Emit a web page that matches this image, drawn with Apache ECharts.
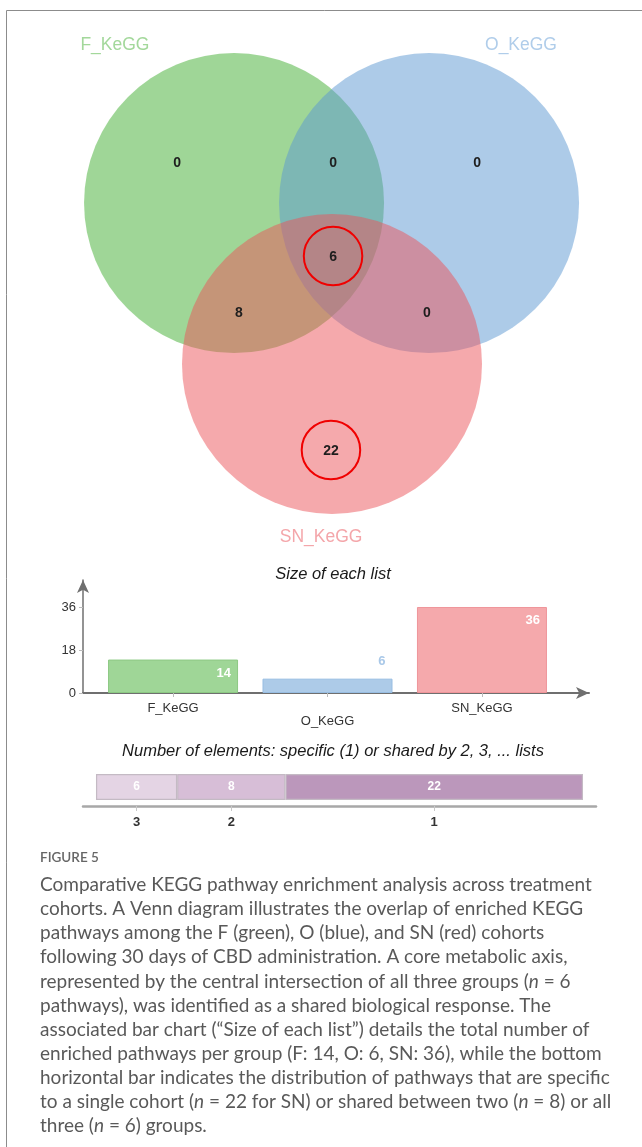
<!DOCTYPE html>
<html>
<head>
<meta charset="utf-8">
<script src="https://cdn.jsdelivr.net/npm/echarts@6/dist/echarts.min.js"></script>
<style>
  html, body { margin: 0; padding: 0; background: #fff; }
  #chart { width: 642px; height: 1147px; }
</style>
</head>
<body>
<div id="chart"></div>
<script>
// --- data ---
const setNames = ['F_KeGG', 'O_KeGG', 'SN_KeGG'];
const listSizes = [14, 6, 36];
// Venn regions: F only, F∩O, O only, F∩O∩SN, F∩SN, O∩SN, SN only
const regionCounts = [0, 0, 0, 6, 8, 0, 22];
const regionCircled = [false, false, false, true, false, false, true];
const sharedLabels = ['3', '2', '1'];
const sharedCounts = [6, 8, 22];
const sizeTicks = [0, 18, 36];

// --- layout of the Venn (units of one circle radius, SN centre at origin) ---
const vennCircles = [[-0.653, 1.073, 1], [0.647, 1.073, 1], [0, 0, 1]];
const regionPos = [[-1.033, 1.34], [0.007, 1.34], [0.967, 1.34], [0.007, 0.713], [-0.62, 0.34], [0.633, 0.34], [-0.007, -0.58]];
const namePos = [[-1.447, 2.127], [1.26, 2.127], [-0.073, -1.153]];

const fills = ['rgba(63,173,47,0.5)', 'rgba(91,151,209,0.5)', 'rgba(235,83,89,0.5)'];
const solid = ['#9fd697', '#adcbe8', '#f5a9ac'];
const edges = ['#8cc983', '#97bde2', '#ef959a'];
const textCol = ['#a3d89b', '#b0cdea', '#f4a6aa'];
const purple = ['#e4d4e4', '#d7bed7', '#bb97bb'];

const SANS = '"Liberation Sans", Arial, sans-serif';
const CAP = 'Lato, "Open Sans", sans-serif';

const chart = echarts.init(document.getElementById('chart'), null, { renderer: 'canvas' });

// centres of the shared bar segments (where the 3/2/1 ticks go)
let run = 0;
const segCenters = sharedCounts.map(c => { const m = run + c / 2; run += c; return m; });

const caption = [
  'Comparative KEGG pathway enrichment analysis across treatment',
  'cohorts. A Venn diagram illustrates the overlap of enriched KEGG',
  'pathways among the F (green), O (blue), and SN (red) cohorts',
  'following 30 days of CBD administration. A core metabolic axis,',
  'represented by the central intersection of all three groups ({i|n} = 6',
  'pathways), was identified as a shared biological response. The',
  'associated bar chart (\u201cSize of each list\u201d) details the total number of',
  'enriched pathways per group (F: 14, O: 6, SN: 36), while the bottom',
  'horizontal bar indicates the distribution of pathways that are specific',
  'to a single cohort ({i|n} = 22 for SN) or shared between two ({i|n} = 8) or all',
  'three ({i|n} = 6) groups.'
];

const capStyle = { fontSize: 19, fontFamily: CAP, color: '#595959' };

const graphics = [
  { type: 'polyline', shape: { points: [[6.5, 1147], [6.5, 10.5], [642, 10.5]] },
    style: { stroke: '#8c8c8c', lineWidth: 1, fill: null }, silent: true },
  { type: 'text', x: 333, y: 574,
    style: { text: 'Size of each list', align: 'center', verticalAlign: 'middle',
             textAlign: 'center', textVerticalAlign: 'middle',
             font: 'italic 16.5px ' + SANS, fill: '#1a1a1a' } },
  { type: 'text', x: 333, y: 751,
    style: { text: 'Number of elements: specific (1) or shared by 2, 3, ... lists', align: 'center', verticalAlign: 'middle',
             textAlign: 'center', textVerticalAlign: 'middle',
             font: 'italic 16.5px ' + SANS, fill: '#1a1a1a' } },
  { type: 'text', x: 40, y: 858,
    style: { text: 'FIGURE 5', verticalAlign: 'middle', textVerticalAlign: 'middle',
             font: '600 13.5px ' + CAP, fill: '#666' } }
];
caption.forEach((line, k) => {
  graphics.push({
    type: 'text', x: 40, y: 885 + k * 24.1,
    style: {
      text: line, verticalAlign: 'middle', textVerticalAlign: 'middle',
      fontSize: 19, fontFamily: CAP, fill: '#595959',
      rich: { i: Object.assign({ fontStyle: 'italic' }, capStyle) }
    }
  });
});

chart.setOption({
  animation: false,
  backgroundColor: '#fff',
  graphic: graphics,
  grid: [
    { left: 0, top: 0, width: 642, height: 560 },
    { left: 83, right: 53, top: 580, bottom: 454 },
    { left: 83, right: 46, top: 768, height: 38 }
  ],
  xAxis: [
    { gridIndex: 0, type: 'value', min: -332 / 150, max: 310 / 150, show: false },
    {
      gridIndex: 1, type: 'value', min: 0.417, max: 3.693,
      axisLine: { show: true, symbol: ['none', 'arrow'], symbolSize: [9, 13], lineStyle: { color: '#6f6f6f', width: 2 } },
      axisTick: { show: true, customValues: [1, 2, 3], length: 4, lineStyle: { color: '#bbb' } },
      axisLabel: {
        customValues: [1, 2, 3], margin: 9, fontSize: 13, fontFamily: SANS, color: '#333', lineHeight: 13,
        formatter: v => (v === 2 ? '\n' : '') + setNames[Math.round(v) - 1]
      },
      splitLine: { show: false }
    },
    {
      gridIndex: 2, type: 'value', min: -0.96, max: 36.96,
      axisLine: { show: true, lineStyle: { color: '#a8a8a8', width: 2.5 } },
      axisTick: { show: true, customValues: segCenters, length: 5, lineStyle: { color: '#c8c8c8' } },
      axisLabel: {
        customValues: segCenters, margin: 10, fontSize: 13, fontWeight: 'bold', fontFamily: SANS, color: '#333',
        formatter: v => sharedLabels[segCenters.indexOf(v)]
      },
      splitLine: { show: false }
    }
  ],
  yAxis: [
    { gridIndex: 0, type: 'value', min: -196 / 150, max: 364 / 150, show: false },
    {
      gridIndex: 1, type: 'value', min: 0, max: 47.3,
      axisLine: { show: true, symbol: ['none', 'arrow'], symbolSize: [9, 13], lineStyle: { color: '#6f6f6f', width: 1.5 } },
      axisTick: { show: true, customValues: sizeTicks, length: 4, lineStyle: { color: '#bbb' } },
      axisLabel: { customValues: sizeTicks, margin: 7, fontSize: 13, fontFamily: SANS, color: '#333' },
      splitLine: { show: false }
    },
    { gridIndex: 2, type: 'category', data: ['all'], show: false }
  ],
  series: [
    {
      type: 'custom', xAxisIndex: 0, yAxisIndex: 0, silent: true,
      data: vennCircles,
      renderItem: (params, api) => {
        const p = api.coord([api.value(0), api.value(1)]);
        const r = api.size([api.value(2), 0])[0];
        return { type: 'circle', shape: { cx: p[0], cy: p[1], r: r }, style: { fill: fills[params.dataIndex] } };
      }
    },
    {
      type: 'custom', xAxisIndex: 0, yAxisIndex: 0, silent: true,
      data: regionPos.map((p, i) => [p[0], p[1], regionCounts[i]]),
      renderItem: (params, api) => {
        const i = params.dataIndex;
        const p = api.coord([api.value(0), api.value(1)]);
        const children = [{
          type: 'text', x: p[0], y: p[1],
          style: { text: String(api.value(2)), align: 'center', verticalAlign: 'middle',
                   textAlign: 'center', textVerticalAlign: 'middle',
                   font: 'bold 14px ' + SANS, fill: '#1e1e1e' }
        }];
        if (regionCircled[i]) {
          const r = api.size([0.195, 0])[0];
          children.push({ type: 'circle', shape: { cx: p[0], cy: p[1] - 1, r: r },
                          style: { fill: 'none', stroke: '#f00000', lineWidth: 2 } });
        }
        return { type: 'group', children };
      }
    },
    {
      type: 'custom', xAxisIndex: 0, yAxisIndex: 0, silent: true,
      data: namePos.map((p, i) => [p[0], p[1], i]),
      renderItem: (params, api) => {
        const p = api.coord([api.value(0), api.value(1)]);
        return {
          type: 'text', x: p[0], y: p[1],
          style: { text: setNames[params.dataIndex], align: 'center', verticalAlign: 'middle',
                   textAlign: 'center', textVerticalAlign: 'middle',
                   font: '17.5px ' + SANS, fill: textCol[params.dataIndex] }
        };
      }
    },
    {
      type: 'bar', xAxisIndex: 1, yAxisIndex: 1, barWidth: 130, silent: true,
      data: listSizes.map((v, i) => ({
        value: [i + 1, v],
        itemStyle: { color: solid[i], borderColor: edges[i], borderWidth: 1 },
        label: i === 1
          ? { show: true, position: 'insideTopRight', distance: 7, offset: [0, -31], color: '#a9c8e8' }
          : { show: true, position: 'insideTopRight', distance: 7, color: '#fff' }
      })),
      label: { show: true, fontSize: 13, fontWeight: 'bold', fontFamily: SANS, formatter: p => p.value[1] }
    },
    ...sharedCounts.map((c, i) => ({
      type: 'bar', xAxisIndex: 2, yAxisIndex: 2, stack: 'shared', barWidth: 26, silent: true,
      data: [c],
      itemStyle: { color: purple[i], borderColor: '#c4bac4', borderWidth: 1.2 },
      label: { show: true, position: 'inside', color: '#fff', fontSize: 12, fontWeight: 'bold', fontFamily: SANS }
    }))
  ]
});
</script>
</body>
</html>
